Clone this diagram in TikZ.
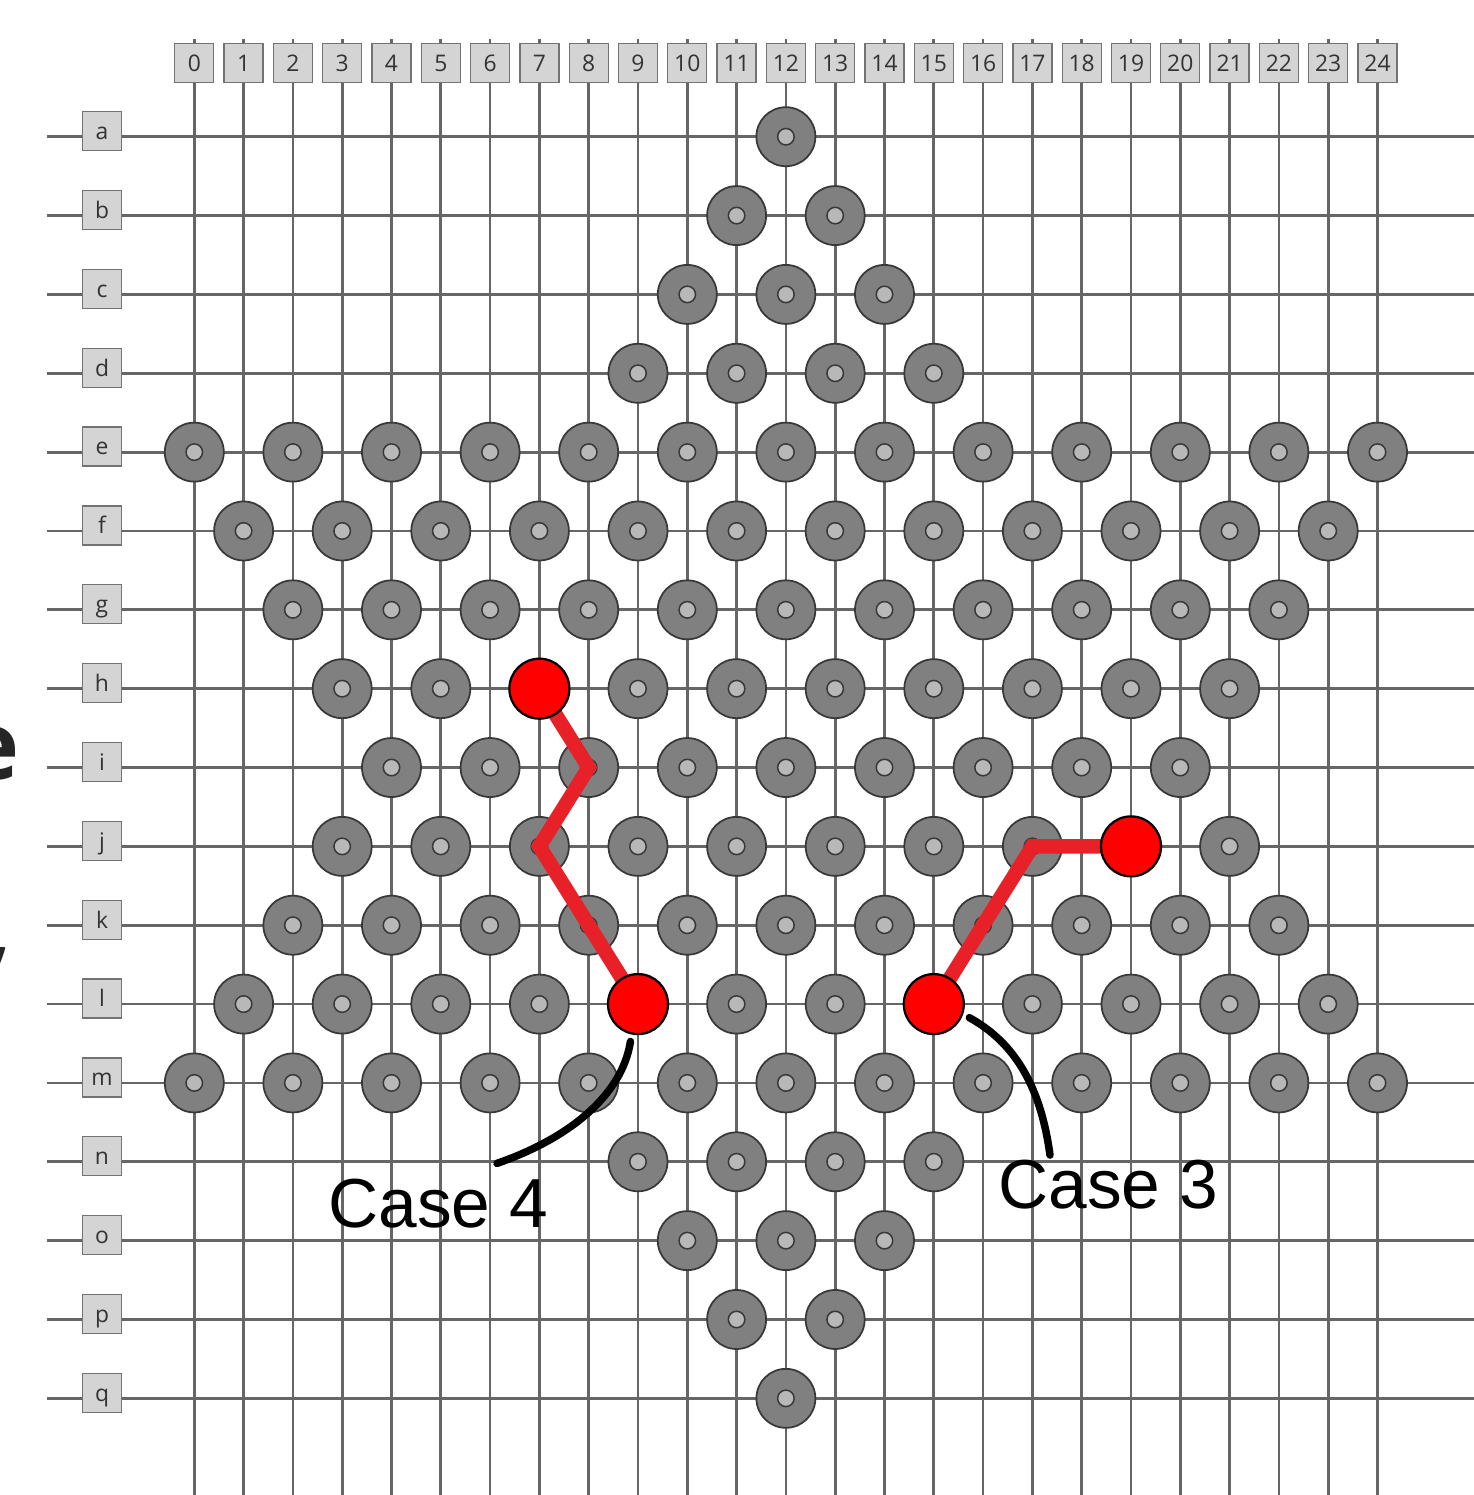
\documentclass[tikz,border=0pt]{standalone}
\usepackage{fontspec}
\setmainfont{Liberation Sans}
\newfontfamily\boardfont{Open Sans}
\newfontfamily\slidefont{Open Sans}
\definecolor{movered}{RGB}{232,32,40}

\begin{document}
\begin{tikzpicture}[x=0.986cm, y=-1.577cm]
        % Define styles
        \tikzstyle{gridline} = [line width=0.055cm, draw=black!60]
        \tikzstyle{tag} = [rectangle, minimum width=0.78cm, minimum height=0.78cm, inner sep=0pt, text height=0.334cm, text depth=0cm, draw=black!55, fill=black!17, line width=0.025cm, text=black!80, font=\boardfont\fontsize{13}{16}\selectfont]
        \tikzstyle{peg} = [circle, minimum size=1.18cm, inner sep=0pt, draw=black!78, fill=black!50, line width=0.035cm, path picture={\draw[black!78, fill=black!28, line width=0.03cm] (path picture bounding box.center) circle (0.165cm);}]
        \tikzstyle{hit} = [circle, minimum size=1.2cm, inner sep=0pt, draw=black, fill=red, line width=0.045cm]
        \tikzstyle{move} = [line width=0.29cm, draw=movered]
        \tikzstyle{callout} = [line width=0.15cm, draw=black, line cap=round, shorten <=0.14cm]
        \tikzstyle{casetext} = [anchor=base west, inner sep=0pt, font=\fontsize{39.5}{47}\selectfont]
        \tikzstyle{fragment} = [anchor=base east, inner sep=0pt, text=black!85, font=\slidefont\bfseries\fontsize{54}{60}\selectfont]

        \useasboundingbox (-3.941,-1.734) rectangle (25.956,17.226);

        % Grid
        \foreach \c in {0,...,24}
            \draw[gridline] (\c,-1.239) -- (\c,17.226);
        \foreach \r in {0,...,16}
            \draw[gridline] (-2.988,\r) -- (25.956,\r);

        % Labels
        \foreach \c in {0,...,24}
            \node[tag] (col\c) at (\c,-0.935) {\c};
        \foreach \row [count=\r from 0] in {a,...,q}
            \node[tag] (row\row) at (-1.872,{\r-0.07}) {\row};

        % Pegs
        \foreach \row/\r/\from/\n in {a/0/12/0, b/1/11/1, c/2/10/2, d/3/9/3, e/4/0/12, f/5/1/11, g/6/2/10, h/7/3/9, i/8/4/8, j/9/3/9, k/10/2/10, l/11/1/11, m/12/0/12, n/13/9/3, o/14/10/2, p/15/11/1, q/16/12/0}
            \foreach \k in {0,...,\n} {
                \pgfmathtruncatemacro{\c}{\from+2*\k}
                \node[peg] (\row\c) at (\c,\r) {};
            }

        % Moves
        \draw[move] (h7.center) -- (i8.center) -- (j7.center) -- (l9.center);
        \draw[move] (l15.center) -- (j17.center) -- (j19.center);
        \node[hit] (c4a) at (h7) {};
        \node[hit] (c4b) at (l9) {};
        \node[hit] (c3a) at (l15) {};
        \node[hit] (c3b) at (j19) {};

        % Callouts
        \node[casetext] (case4) at (2.712,13.827) {Case 4};
        \node[casetext] (case3) at (16.302,13.587) {Case 3};
        \coordinate (c4tip) at (6.14,13.02);
        \coordinate (c3tip) at (17.357,12.915);
        \draw[callout] (c4b.258) .. controls (8.68,12.15) and (7.62,12.70) .. (c4tip);
        \draw[callout] (c3a.-19) .. controls (16.55,11.46) and (17.15,11.96) .. (c3tip);

        % Cut-off text at the left edge
        \node[fragment] (frage) at (-3.535,8.146) {e};
        \node[fragment] (fragcomma) at (-3.698,10.416) {,};
\end{tikzpicture}
\end{document}
